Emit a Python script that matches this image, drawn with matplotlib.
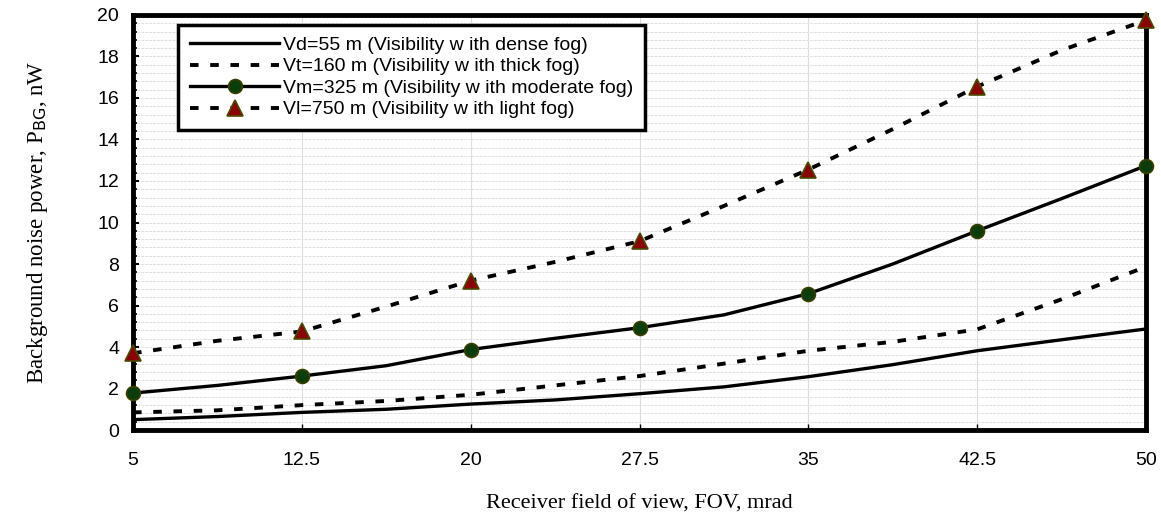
import matplotlib.pyplot as plt
import numpy as np
from matplotlib.ticker import MultipleLocator

# receiver field of view (mrad), points every 3.75 mrad
fov = [5, 8.75, 12.5, 16.25, 20, 23.75, 27.5, 31.25, 35, 38.75, 42.5, 46.25, 50]

# background noise power (nW)
p_dense = [0.5, 0.65, 0.85, 1.0, 1.25, 1.45, 1.75, 2.08, 2.57, 3.15, 3.82, 4.35, 4.87]
p_thick = [0.85, 0.95, 1.2, 1.4, 1.7, 2.15, 2.6, 3.2, 3.82, 4.25, 4.85, 6.3, 7.87]
p_moderate = [1.78, 2.15, 2.6, 3.1, 3.88, 4.42, 4.93, 5.55, 6.57, 8.0, 9.6, 11.15, 12.74]
p_light = [3.7, 4.3, 4.75, 5.95, 7.2, 8.1, 9.1, 10.8, 12.55, 14.5, 16.55, 18.3, 19.75]

labels = [
    "Vd=55 m (Visibility w ith dense fog)",
    "Vt=160 m (Visibility w ith thick fog)",
    "Vm=325 m (Visibility w ith moderate fog)",
    "Vl=750 m (Visibility w ith light fog)",
]
xticks = [5, 12.5, 20, 27.5, 35, 42.5, 50]

plt.rcParams["font.family"] = ["Liberation Sans", "DejaVu Sans"]

fig = plt.figure(figsize=(11.61, 5.22), dpi=100)
ax = fig.add_axes([0.1146, 0.1762, 0.8725, 0.7951])

dash = (0, (2.2, 3.0))
ax.plot(fov, p_dense, color="black", lw=2.4, label=labels[0], zorder=3)
ax.plot(fov, p_thick, color="black", lw=2.8, ls=dash, label=labels[1], zorder=3)
ax.plot(fov, p_moderate, color="black", lw=2.4, marker="o", markevery=2,
        ms=10, mfc="#0b3d0b", mec="#3d3d00", mew=1.2, label=labels[2],
        zorder=4, clip_on=False)
ax.plot(fov, p_light, color="black", lw=2.8, ls=dash, marker="^", markevery=2,
        ms=11, mfc="#8b0000", mec="#4a4a00", mew=1.2, label=labels[3],
        zorder=4, clip_on=False)

ax.set_xlim(5, 50)
ax.set_ylim(0, 20)
ax.set_xticks(xticks)
ax.set_xticklabels([f"{t:g}" for t in xticks], fontsize=14)
ax.yaxis.set_major_locator(MultipleLocator(2))
ax.yaxis.set_minor_locator(MultipleLocator(0.4))
ax.tick_params(axis="y", labelsize=14, direction="in", length=4, width=1.5, pad=10)
ax.tick_params(axis="y", which="minor", direction="in", length=3, width=1.2)
ax.tick_params(axis="x", direction="in", length=4, width=1, pad=16)

ax.grid(axis="x", which="major", color="#dcdcdc", lw=0.8)
ax.grid(axis="y", which="both", color="#e0e0e0", lw=0.7, ls=(0, (3, 1)))
ax.set_axisbelow(True)

for s in ax.spines.values():
    s.set_linewidth(3.5)

ax.set_xlabel("Receiver field of view, FOV, mrad", fontsize=16,
              family="Liberation Serif", labelpad=18)
ax.set_ylabel(r"Background noise power, P$_{\mathrm{BG}}$, nW", fontsize=16.5,
              family="Liberation Serif", labelpad=34)

leg = ax.legend(loc="upper left", bbox_to_anchor=(0.035, 1.0), fontsize=14,
                handlelength=4.6, handletextpad=0.2, labelspacing=0.2,
                borderpad=0.6, fancybox=False, framealpha=1,
                edgecolor="black")
leg.get_frame().set_linewidth(2.5)

fig.savefig("out.png", dpi=100)
